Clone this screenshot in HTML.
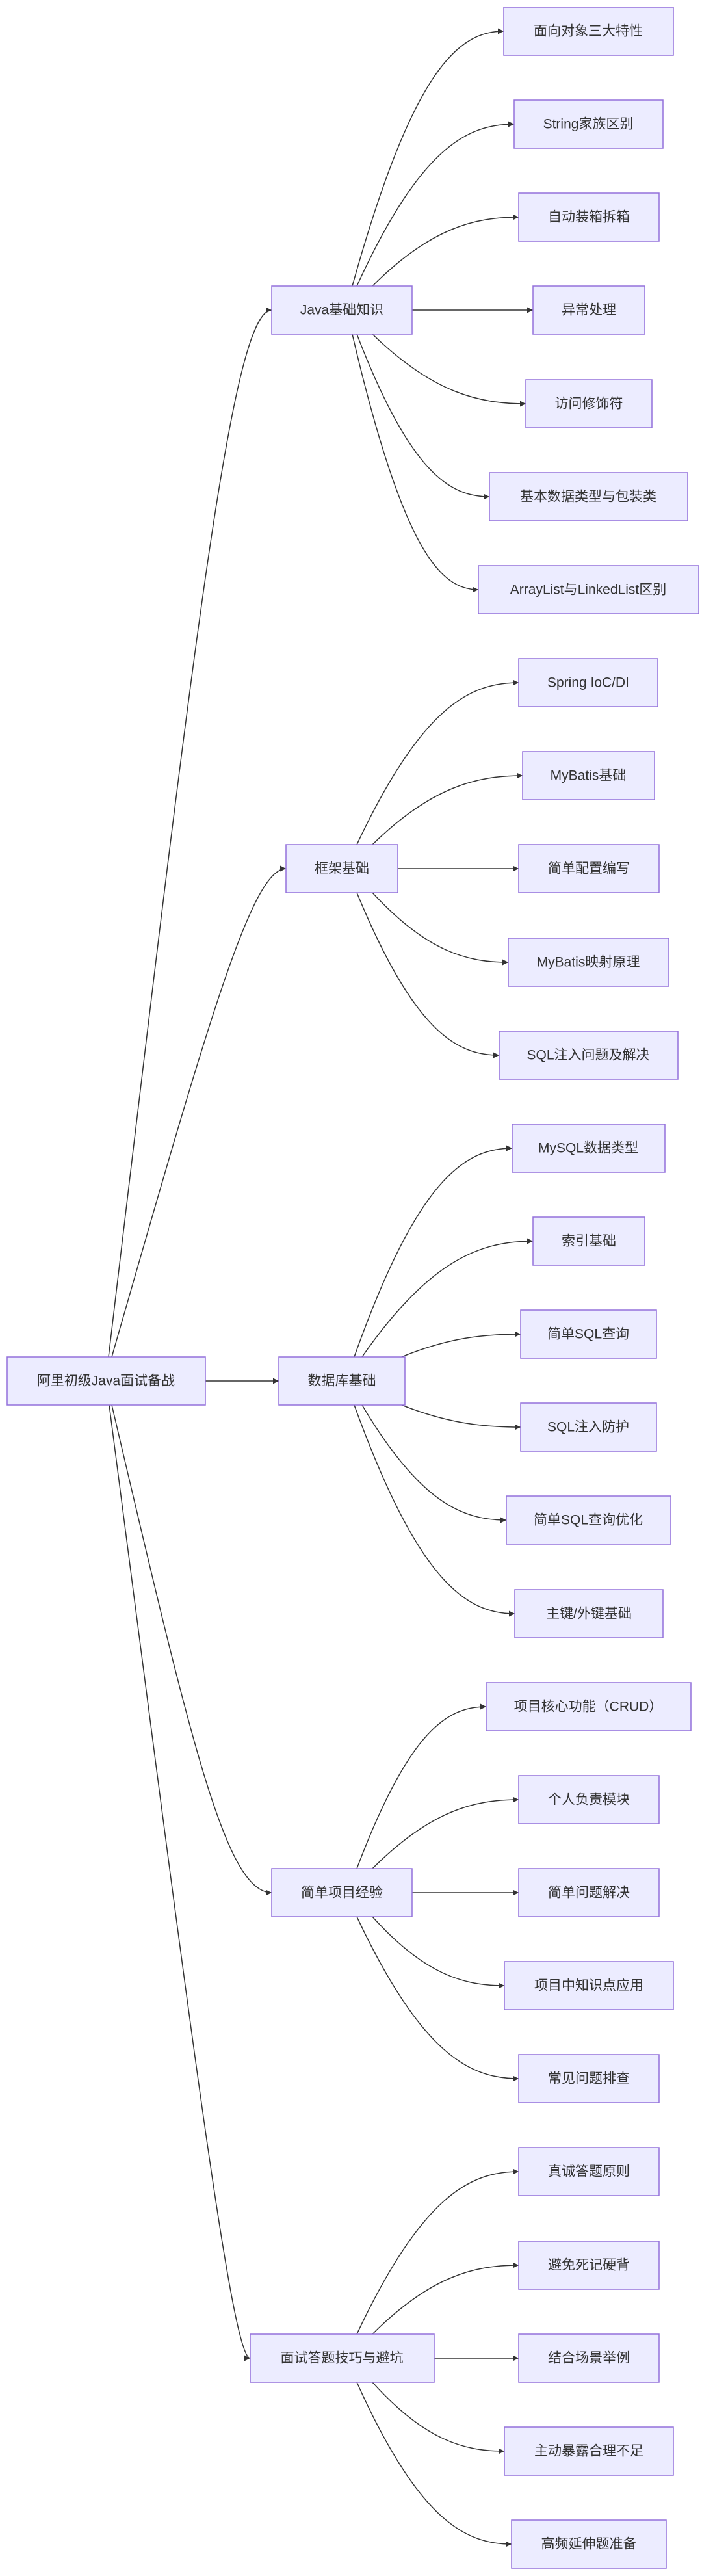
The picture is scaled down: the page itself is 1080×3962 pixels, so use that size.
<!DOCTYPE html>
<html><head><meta charset="utf-8"><style>
html,body{margin:0;padding:0;background:#fff;}
svg{display:block;}
.n rect{fill:#ECECFF;stroke:#9370DB;stroke-width:1.5;}
text{font-family:"Liberation Sans","Noto Sans CJK SC",sans-serif;font-size:21px;fill:#333;text-anchor:middle;dominant-baseline:central;}
path{fill:none;stroke:#333;stroke-width:1.5;}
</style></head><body>
<svg width="1080" height="3962" viewBox="0 0 1080 3962" xmlns="http://www.w3.org/2000/svg">
<defs><marker id="a" viewBox="0 0 10 10" refX="10" refY="5" markerWidth="9" markerHeight="9" markerUnits="userSpaceOnUse" orient="auto"><path d="M0,0 L10,5 L0,10 z" style="fill:#333;stroke:none"/></marker></defs>
<g marker-end="url(#a)">
<path d="M167,2087 C301,960 358,477 418,477" marker-end="url(#a)"/>
<path d="M172,2087 C323,1561 388,1336 440,1336" marker-end="url(#a)"/>
<path d="M316,2124 L429,2124" marker-end="url(#a)"/>
<path d="M172,2161 C295,2686 348,2911 418,2911" marker-end="url(#a)"/>
<path d="M168,2161 C301,3187 358,3627 385,3627" marker-end="url(#a)"/>

<path d="M542,440 C635,107 705,48 775,48" marker-end="url(#a)"/>
<path d="M549,440 C646,228 718,191 791,191" marker-end="url(#a)"/>
<path d="M573,440 C663,350 731,334 798,334" marker-end="url(#a)"/>
<path d="M634,477 L820,477" marker-end="url(#a)"/>
<path d="M573,514 C667,605 738,621 809,621" marker-end="url(#a)"/>
<path d="M549,514 C631,727 692,764 753,764" marker-end="url(#a)"/>
<path d="M542,514 C620,848 678,907 736,907" marker-end="url(#a)"/>

<path d="M549,1299 C649,1087 723,1050 798,1050" marker-end="url(#a)"/>
<path d="M573,1299 C665,1209 735,1193 804,1193" marker-end="url(#a)"/>
<path d="M612,1336 L798,1336" marker-end="url(#a)"/>
<path d="M573,1373 C657,1464 719,1480 782,1480" marker-end="url(#a)"/>
<path d="M549,1373 C637,1586 702,1623 768,1623" marker-end="url(#a)"/>

<path d="M545,2087 C642,1814 715,1766 788,1766" marker-end="url(#a)"/>
<path d="M557,2087 C662,1936 741,1909 820,1909" marker-end="url(#a)"/>
<path d="M618,2087 C691,2057 746,2052 801,2052" marker-end="url(#a)"/>
<path d="M618,2161 C691,2190 746,2195 801,2195" marker-end="url(#a)"/>
<path d="M557,2161 C646,2311 712,2338 779,2338" marker-end="url(#a)"/>
<path d="M545,2161 C644,2434 718,2482 792,2482" marker-end="url(#a)"/>

<path d="M549,2874 C629,2662 688,2625 748,2625" marker-end="url(#a)"/>
<path d="M573,2874 C663,2784 731,2768 798,2768" marker-end="url(#a)"/>
<path d="M634,2911 L798,2911" marker-end="url(#a)"/>
<path d="M573,2948 C654,3038 715,3054 776,3054" marker-end="url(#a)"/>
<path d="M549,2948 C649,3160 723,3197 798,3197" marker-end="url(#a)"/>

<path d="M549,3590 C649,3378 723,3340 798,3340" marker-end="url(#a)"/>
<path d="M573,3590 C663,3500 731,3484 798,3484" marker-end="url(#a)"/>
<path d="M668,3627 L798,3627" marker-end="url(#a)"/>
<path d="M573,3664 C654,3754 715,3770 776,3770" marker-end="url(#a)"/>
<path d="M549,3664 C644,3876 716,3913 787,3913" marker-end="url(#a)"/>
</g>

<g class="n">
<rect x="11" y="2087" width="305" height="74"/><text x="163" y="2124">阿里初级Java面试备战</text>
<rect x="418" y="440" width="216" height="74"/><text x="526" y="477">Java基础知识</text>
<rect x="440" y="1299" width="172" height="74"/><text x="526" y="1336">框架基础</text>
<rect x="429" y="2087" width="194" height="74"/><text x="526" y="2124">数据库基础</text>
<rect x="418" y="2874" width="216" height="74"/><text x="526" y="2911">简单项目经验</text>
<rect x="385" y="3590" width="283" height="74"/><text x="526" y="3627">面试答题技巧与避坑</text>

<rect x="775" y="11" width="261" height="74"/><text x="905" y="48">面向对象三大特性</text>
<rect x="791" y="154" width="229" height="74"/><text x="905" y="191">String家族区别</text>
<rect x="798" y="297" width="216" height="74"/><text x="906" y="334">自动装箱拆箱</text>
<rect x="820" y="440" width="172" height="74"/><text x="906" y="477">异常处理</text>
<rect x="809" y="584" width="194" height="74"/><text x="906" y="621">访问修饰符</text>
<rect x="753" y="727" width="305" height="74"/><text x="905" y="764">基本数据类型与包装类</text>
<rect x="736" y="870" width="339" height="74"/><text x="905" y="907">ArrayList与LinkedList区别</text>

<rect x="798" y="1013" width="214" height="74"/><text x="905" y="1050">Spring IoC/DI</text>
<rect x="804" y="1156" width="203" height="74"/><text x="905" y="1193">MyBatis基础</text>
<rect x="798" y="1299" width="216" height="74"/><text x="906" y="1336">简单配置编写</text>
<rect x="782" y="1443" width="247" height="74"/><text x="905" y="1480">MyBatis映射原理</text>
<rect x="768" y="1586" width="275" height="74"/><text x="905" y="1623">SQL注入问题及解决</text>

<rect x="788" y="1729" width="235" height="74"/><text x="905" y="1766">MySQL数据类型</text>
<rect x="820" y="1872" width="172" height="74"/><text x="906" y="1909">索引基础</text>
<rect x="801" y="2015" width="209" height="74"/><text x="905" y="2052">简单SQL查询</text>
<rect x="801" y="2158" width="209" height="74"/><text x="905" y="2195">SQL注入防护</text>
<rect x="779" y="2301" width="253" height="74"/><text x="905" y="2338">简单SQL查询优化</text>
<rect x="792" y="2445" width="228" height="74"/><text x="906" y="2482">主键/外键基础</text>

<rect x="748" y="2588" width="315" height="74"/><text x="905" y="2625">项目核心功能（CRUD）</text>
<rect x="798" y="2731" width="216" height="74"/><text x="906" y="2768">个人负责模块</text>
<rect x="798" y="2874" width="216" height="74"/><text x="906" y="2911">简单问题解决</text>
<rect x="776" y="3017" width="260" height="74"/><text x="906" y="3054">项目中知识点应用</text>
<rect x="798" y="3160" width="216" height="74"/><text x="906" y="3197">常见问题排查</text>

<rect x="798" y="3303" width="216" height="74"/><text x="906" y="3340">真诚答题原则</text>
<rect x="798" y="3447" width="216" height="74"/><text x="906" y="3484">避免死记硬背</text>
<rect x="798" y="3590" width="216" height="74"/><text x="906" y="3627">结合场景举例</text>
<rect x="776" y="3733" width="260" height="74"/><text x="906" y="3770">主动暴露合理不足</text>
<rect x="787" y="3876" width="238" height="74"/><text x="906" y="3913">高频延伸题准备</text>
</g>
</svg>
</body></html>
